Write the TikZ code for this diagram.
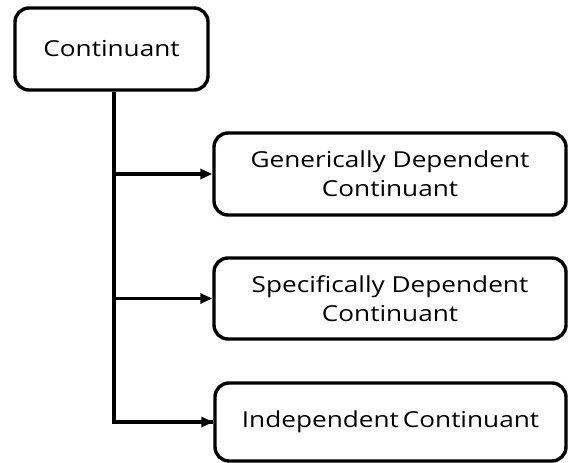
\documentclass[tikz,border=0pt]{standalone}
\usepackage{fontspec}
\setmainfont{Open Sans}[FakeStretch=1.19]
\usetikzlibrary{arrows.meta}
\begin{document}
\begin{tikzpicture}[x=1pt,y=-1pt,
  box/.style={draw=black, line width=3.4pt, rounded corners=14pt, align=center,
    inner sep=0pt, font=\fontsize{22}{29}\selectfont},
  link/.style={line width=3.2pt},
  arrowlink/.style={link, -{Stealth[length=12pt,width=10pt,inset=0pt]}}]
  \useasboundingbox (0,0) rectangle (568,463);
  % class boxes
  \node[box, minimum width=193pt, minimum height=82pt] (cont) at (111.5,49) {Continuant};
  \node[box, minimum width=352pt, minimum height=82pt] (gdc) at (390,174)
    {Generically Dependent\\Continuant};
  \node[box, minimum width=352pt, minimum height=81pt] (sdc) at (390,298.5)
    {Specifically Dependent\\Continuant};
  \node[box, minimum width=351pt, minimum height=78pt] (ic) at (390.5,422)
    {Independent\hspace{0.18em}Continuant};
  % trunk line and branches
  \coordinate (trunk) at (114,0);
  \draw[link] (trunk |- cont.south) -- (trunk |- ic.west) -- (ic.west);
  \draw[arrowlink] (trunk |- gdc.west) -- (gdc.west);
  \draw[arrowlink] (trunk |- sdc.west) -- (sdc.west);
  \draw[arrowlink] (trunk |- ic.west) -- (ic.west);
\end{tikzpicture}
\end{document}
